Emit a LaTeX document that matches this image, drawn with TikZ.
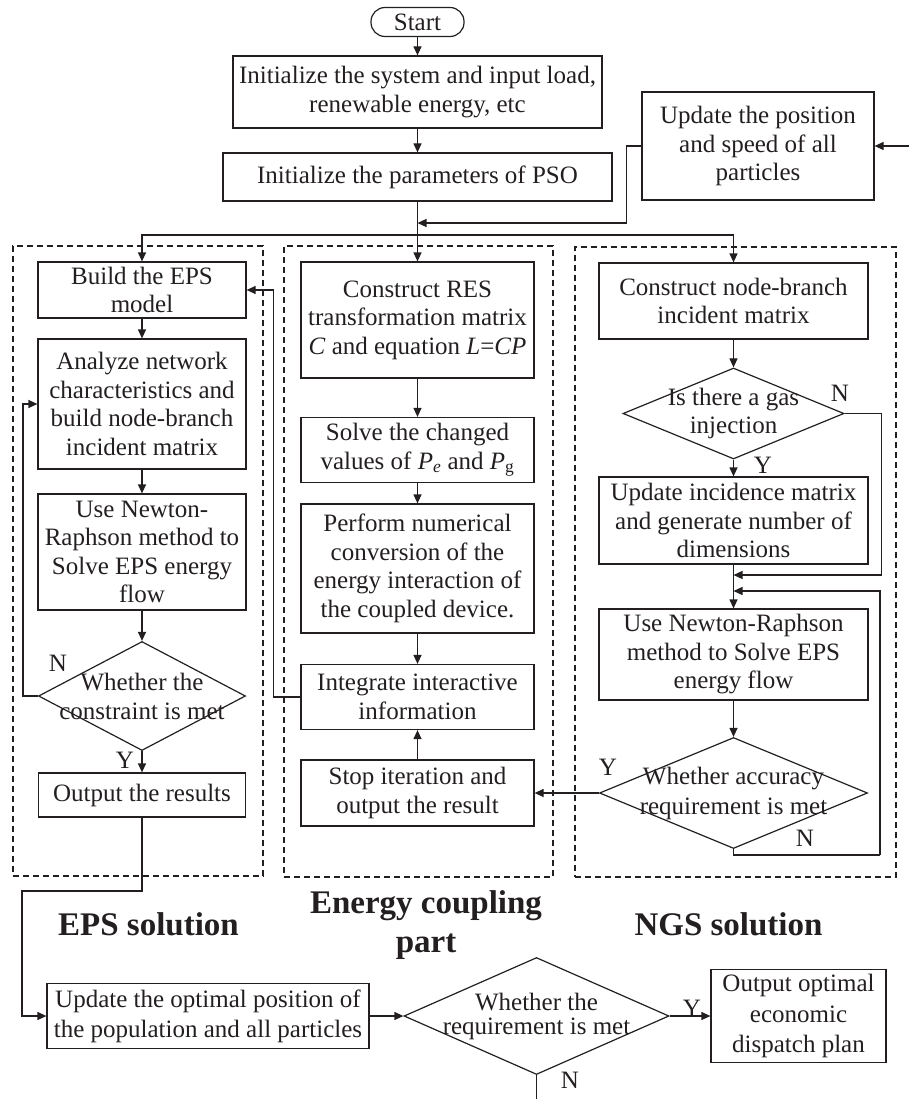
\documentclass[tikz,border=0pt]{standalone}
\usepackage{fontspec}
\setmainfont{Liberation Serif}
\usetikzlibrary{arrows.meta,shapes.geometric}
\definecolor{ink}{RGB}{35,31,32}
\tikzset{
  box/.style={draw=ink, line width=1.2pt, inner sep=0pt, align=center, text=ink,
    font=\fontsize{25}{28.5}\selectfont},
  dia/.style={draw=ink, shape=diamond, line width=1.2pt, inner sep=0pt},
  diatext/.style={align=center, inner sep=0pt, text=ink, font=\fontsize{25}{29}\selectfont},
  yn/.style={inner sep=0pt, text=ink, font=\fontsize{25}{28}\selectfont},
  head/.style={inner sep=0pt, anchor=base, text=ink, font=\bfseries\fontsize{33}{40}\selectfont},
  ln/.style={draw=ink, line width=1.2pt},
  arr/.style={draw=ink, line width=1.2pt, -{Triangle[length=9pt,width=8pt]}},
  grp/.style={draw=ink, line width=1.3pt, dash pattern=on 6pt off 4pt, inner sep=0pt},
}
\begin{document}
\begin{tikzpicture}[x=1pt,y=-1pt]
\useasboundingbox (0,0) rectangle (909,1099);
% dashed groups
\node[grp, minimum width=250pt, minimum height=630pt] (grpL) at (138,561) {};
\node[grp, minimum width=269pt, minimum height=631pt] (grpM) at (418.5,561.5) {};
\node[grp, minimum width=321pt, minimum height=630pt] (grpR) at (735.5,562) {};

% top
\node[box, rounded corners=14pt, minimum width=93pt, minimum height=29pt] (start) at (417.5,22) {Start};
\node[box, minimum width=369pt, minimum height=72pt] (init1) at (417.5,92) {Initialize the system and input load,\\renewable energy, etc};
\node[box, minimum width=389pt, minimum height=48pt] (init2) at (417.5,177) {Initialize the parameters of PSO};
\node[box, minimum width=232pt, minimum height=108pt] (upd) at (758,146) {Update the position\\and speed of all\\particles};
\coordinate (rin) at (909,146);
\coordinate (merge) at (417.5,223);
\coordinate (split) at (417.5,235);

% left column
\node[box, minimum width=208pt, minimum height=56pt] (build) at (142,290) {Build the EPS\\model};
\node[box, minimum width=208pt, minimum height=130pt] (analyze) at (142,404) {Analyze network\\characteristics and\\build node-branch\\incident matrix};
\node[box, minimum width=208pt, minimum height=116pt] (newton1) at (142,552) {Use Newton-\\Raphson method to\\Solve EPS energy\\flow};
\node[dia, minimum width=207pt, minimum height=109pt] (dia1) at (142,696) {};
\node[diatext] (dia1t) at (dia1) {Whether the\\constraint is met};
\node[box, minimum width=207pt, minimum height=44pt] (out) at (142,795) {Output the results};

% middle column
\node[box, minimum width=233pt, minimum height=116pt] (res) at (417.5,320) {Construct RES\\transformation matrix\\\textit{C} and equation \textit{L}=\textit{CP}};
\node[box, minimum width=233pt, minimum height=65pt] (solve) at (417.5,450) {Solve the changed\\values of \textit{P}\textsubscript{\textit{e}} and \textit{P}\textsubscript{g}};
\node[box, minimum width=233pt, minimum height=129pt] (perform) at (417.5,568.5) {Perform numerical\\conversion of the\\energy interaction of\\the coupled device.};
\node[box, minimum width=233pt, minimum height=65pt] (integ) at (417.5,697) {Integrate interactive\\information};
\node[box, minimum width=233pt, minimum height=66pt] (stop) at (417.5,793) {Stop iteration and\\output the result};

% right column
\node[box, minimum width=269pt, minimum height=76pt] (nb) at (733.5,301) {Construct node-branch\\incident matrix};
\node[dia, minimum width=221pt, minimum height=91pt] (dia2) at (733.5,413.5) {};
\node[diatext, font=\fontsize{25}{28}\selectfont] (dia2t) at (dia2) {Is there a gas\\injection};
\node[box, minimum width=269pt, minimum height=87pt] (upinc) at (733.5,520.5) {Update incidence matrix\\and generate number of\\dimensions};
\node[box, minimum width=269pt, minimum height=91pt] (newton2) at (733.5,654.5) {Use Newton-Raphson\\method to Solve EPS\\energy flow};
\node[dia, minimum width=268pt, minimum height=111pt] (dia3) at (733.5,793) {};
\node[diatext, font=\fontsize{25}{30}\selectfont] (dia3t) at (dia3) {Whether accuracy\\requirement is met};
\coordinate (m1) at (733.5,575);
\coordinate (m2) at (733.5,591);
\coordinate (r2) at (880,855);

% headings
\node[head] (hEPS) at (148.5,935) {EPS solution};
\node[head] (hECa) at (426,913) {Energy coupling};
\node[head] (hECb) at (426,952) {part};
\node[head] (hNGS) at (728.5,935) {NGS solution};

% bottom row
\node[box, minimum width=322pt, minimum height=65pt, font=\fontsize{25}{30}\selectfont] (upopt) at (208,1016) {Update the optimal position of\\the population and all particles};
\node[dia, minimum width=265pt, minimum height=117pt] (dia4) at (536.5,1016) {};
\node[diatext, font=\fontsize{25}{24}\selectfont] (dia4t) at (dia4) {Whether the\\requirement is met};
\node[box, minimum width=175pt, minimum height=93pt, font=\fontsize{25}{30.5}\selectfont] (outopt) at (798.5,1016) {Output optimal\\economic\\dispatch plan};
\coordinate (c1) at (22,891);
\coordinate (bot) at (536.5,1099);

% Y / N labels
\node[yn] (n1) at (58,663) {N};
\node[yn] (y1) at (125,760) {Y};
\node[yn] (n2) at (840,393) {N};
\node[yn] (y2) at (763,465) {Y};
\node[yn] (y3) at (608,767) {Y};
\node[yn] (n3) at (805,838) {N};
\node[yn] (y4) at (692,1008) {Y};
\node[yn] (n4) at (570,1080) {N};

% connectors top
\draw[arr] (start) -- (init1);
\draw[arr] (init1) -- (init2);
\draw[ln] (init2) -- (split);
\draw[arr] (rin) -- (upd.east);
\draw[arr] (upd.west) -- ++(-15,0) |- (merge);
\draw[arr] (split) -| (build.north);
\draw[arr] (split) -- (res.north);
\draw[arr] (split) -| (nb.north);

% left
\draw[arr] (build) -- (analyze);
\draw[arr] (analyze) -- (newton1);
\draw[arr] (newton1) -- (dia1);
\draw[arr] (dia1.west) -- ++(-15,0) |- (analyze.west);
\draw[arr] (dia1) -- (out);
\draw[arr] (out.south) |- (c1) |- (upopt.west);

% middle
\draw[arr] (res) -- (solve);
\draw[arr] (solve) -- (perform);
\draw[arr] (perform) -- (integ);
\draw[arr] (stop) -- (integ);
\draw[arr] (integ.west) -- ++(-27,0) |- (build.east);

% right
\draw[arr] (nb) -- (dia2);
\draw[arr] (dia2) -- (upinc);
\draw[arr] (upinc) -- (newton2);
\draw[arr] (dia2.east) -- ++(37,0) |- (m1);
\draw[arr] (newton2) -- (dia3);
\draw[ln] (dia3.south) |- (r2);
\draw[arr] (r2) |- (m2);
\draw[arr] (dia3.west) -- (stop.east);

% bottom
\draw[arr] (upopt) -- (dia4);
\draw[arr] (dia4) -- (outopt);
\draw[ln] (dia4.south) -- (bot);
\end{tikzpicture}
\end{document}
